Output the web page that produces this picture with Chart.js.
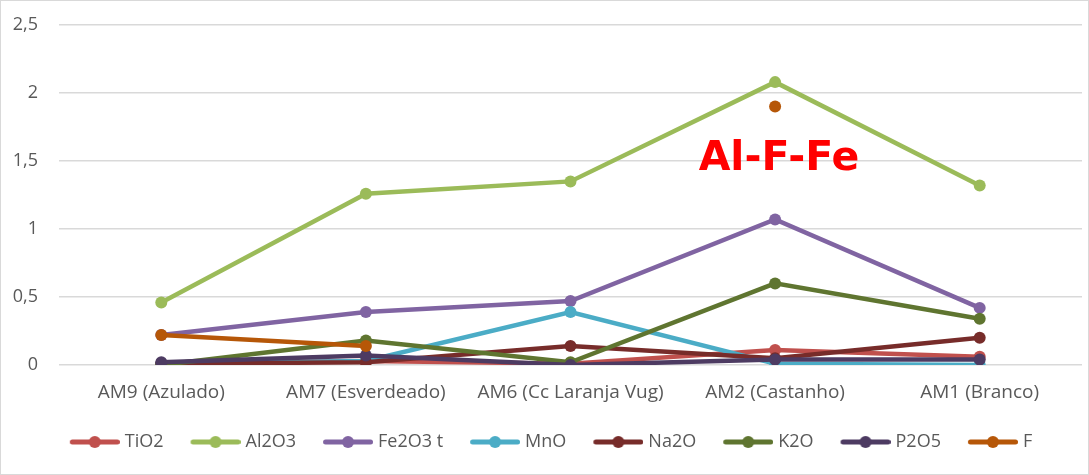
<!DOCTYPE html>
<html>
<head>
<meta charset="utf-8">
<script src="https://cdn.jsdelivr.net/npm/chart.js@4.4.1/dist/chart.umd.min.js"></script>
<style>
  html, body { margin: 0; padding: 0; background: #fff; }
  #wrap { width: 1089px; height: 475px; box-sizing: border-box; border: 1px solid #d9d9d9; }
  canvas { display: block; }
</style>
</head>
<body>
<div id="wrap"><canvas id="myChart" width="1087" height="473"></canvas></div>
<script>
// categories (samples) and oxide values
const samples = ["AM9 (Azulado)", "AM7 (Esverdeado)", "AM6 (Cc Laranja Vug)", "AM2 (Castanho)", "AM1 (Branco)"];
const seriesNames = ["TiO2", "Al2O3", "Fe2O3 t", "MnO", "Na2O", "K2O", "P2O5", "F"];
const tio2 = [0.01, 0.03, 0.01, 0.11, 0.06];
const al2o3 = [0.46, 1.26, 1.35, 2.08, 1.32];
const fe2o3 = [0.22, 0.39, 0.47, 1.07, 0.42];
const mno = [0.01, 0.03, 0.39, 0.01, 0.0];
const na2o = [0.01, 0.02, 0.14, 0.05, 0.2];
const k2o = [0.0, 0.18, 0.02, 0.6, 0.34];
const p2o5 = [0.02, 0.07, 0.0, 0.04, 0.04];
const fluor = [0.22, 0.14, null, 1.9, null];
const yTicks = [0, 0.5, 1, 1.5, 2, 2.5];
const annotation = "Al-F-Fe";

const colors = ["#C0504D", "#9BBB59", "#8064A2", "#4BACC6", "#772C2A", "#5F7530", "#4D3B62", "#B65708"];
const values = [tio2, al2o3, fe2o3, mno, na2o, k2o, p2o5, fluor];

// legend marker: line with a dot, drawn on a small canvas.
// The canvas is a bit wider than the legend box so the marker sits close to the text.
const boxW = 63;
function makeMarker(color) {
  const c = document.createElement("canvas");
  c.width = boxW + 8;
  c.height = 14;
  const g = c.getContext("2d");
  g.strokeStyle = color;
  g.lineWidth = 5;
  g.lineCap = "round";
  g.beginPath();
  g.moveTo(c.width - 47.5, 7);
  g.lineTo(c.width - 2.5, 7);
  g.stroke();
  g.fillStyle = color;
  g.beginPath();
  g.arc(c.width - 25, 7, 6, 0, Math.PI * 2);
  g.fill();
  return c;
}
const markers = colors.map(makeMarker);

const datasets = seriesNames.map((name, i) => ({
  label: name,
  data: values[i],
  borderColor: colors[i],
  backgroundColor: colors[i],
  borderWidth: 4.5,
  pointRadius: 6,
  pointHoverRadius: 6,
  pointBorderWidth: 0,
  spanGaps: false,
  order: seriesNames.length - 1 - i, // later series on top, like the original
}));

// red text label inside the plot
const annotationPlugin = {
  id: "annotationText",
  afterDatasetsDraw(chart) {
    const ctx = chart.ctx;
    ctx.save();
    ctx.font = "bold 41px 'DejaVu Sans'";
    ctx.fillStyle = "#FF0000";
    ctx.textAlign = "center";
    ctx.textBaseline = "alphabetic";
    ctx.fillText(annotation, 778, 169);
    ctx.restore();
  },
};

const textColor = "#595959";
const ctx = document.getElementById("myChart").getContext("2d");
new Chart(ctx, {
  type: "line",
  data: { labels: samples, datasets: datasets },
  options: {
    responsive: false,
    animation: false,
    layout: { padding: { top: 24, right: 4, bottom: 13, left: 0 } },
    plugins: {
      legend: {
        position: "bottom",
        labels: {
          usePointStyle: true,
          pointStyleWidth: boxW,
          padding: 10,
          color: textColor,
          font: { family: "'Open Sans'", size: 18 },
          sort: (a, b) => a.datasetIndex - b.datasetIndex,
          generateLabels(chart) {
            const items = Chart.defaults.plugins.legend.labels.generateLabels(chart);
            items.forEach((it) => {
              it.pointStyle = markers[it.datasetIndex];
            });
            return items;
          },
        },
      },
      tooltip: { enabled: false },
    },
    scales: {
      x: {
        offset: true,
        grid: { display: false, drawTicks: false },
        border: { display: false },
        ticks: { color: textColor, font: { family: "'Open Sans'", size: 19 }, padding: 16, maxRotation: 0 },
        afterFit(scale) { scale.height = 58; },
      },
      y: {
        min: 0,
        max: 2.5,
        afterBuildTicks(scale) { scale.ticks = yTicks.map((v) => ({ value: v })); },
        grid: { color: "#d9d9d9", lineWidth: 1.5, drawTicks: false },
        border: { display: false },
        ticks: {
          color: textColor,
          font: { family: "'Open Sans'", size: 18 },
          padding: 21,
          callback: (v) => String(v).replace(".", ","),
        },
        afterFit(scale) {
          scale.width = 58;
          // the tick padding should not push the plot area down
          scale.paddingTop = 0;
          scale.paddingBottom = 0;
        },
      },
    },
  },
  plugins: [annotationPlugin],
});
</script>
</body>
</html>
